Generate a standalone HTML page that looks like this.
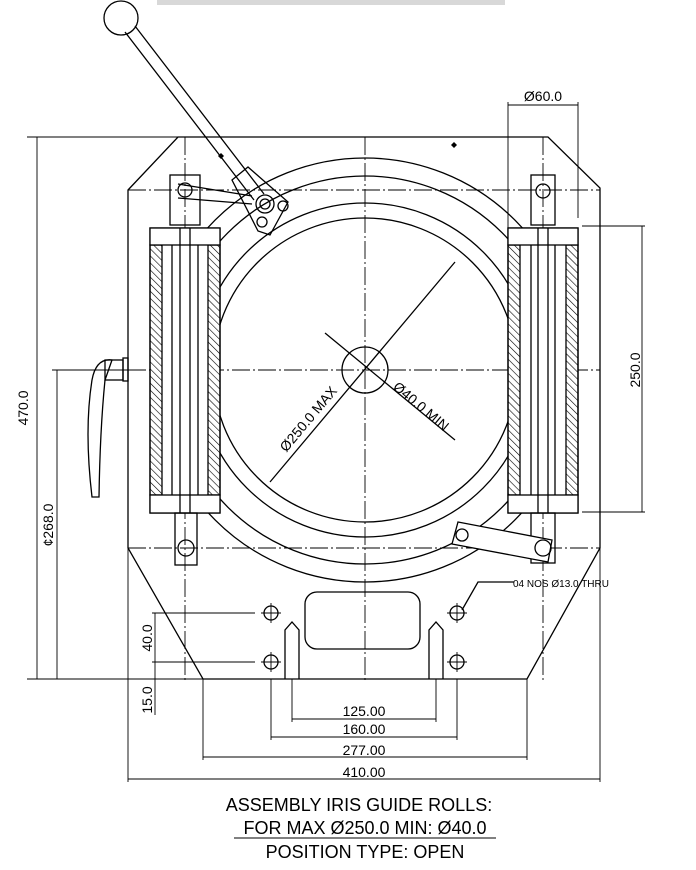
<!DOCTYPE html>
<html><head><style>html,body{margin:0;padding:0;background:#fff}svg{display:block}</style></head><body>
<svg width="696" height="870" viewBox="0 0 696 870" xmlns="http://www.w3.org/2000/svg" font-family="Liberation Sans, sans-serif">
<defs>
<pattern id="h" width="5" height="5" patternUnits="userSpaceOnUse" patternTransform="rotate(-45)">
<line x1="0" y1="0" x2="0" y2="5" stroke="#000" stroke-width="1.2"/></pattern>
</defs>
<rect x="157" y="0" width="348" height="5" fill="#d8d8d8"/>
<g fill="none" stroke="#000" stroke-width="1.3">
<path d="M128,190 L178,137 L548,137 L600,188 L600,548 L527,679 L203,679 L128,548 Z"/>
<line x1="128" y1="548" x2="600" y2="548" stroke-dasharray="18,3,2,3" stroke-width="1"/>
<g stroke-width="0.9" stroke-dasharray="18,3,2,3">
<line x1="128" y1="190" x2="600" y2="190"/>
<line x1="128" y1="370" x2="600" y2="370"/>
<line x1="365" y1="137" x2="365" y2="680"/>
<line x1="185" y1="137" x2="185" y2="680"/>
<line x1="543" y1="137" x2="543" y2="680"/>
</g>
<circle cx="365" cy="370" r="23"/>
<circle cx="365" cy="370" r="152"/>
<circle cx="365" cy="370" r="167"/>
<circle cx="365" cy="370" r="194"/>
<circle cx="365" cy="370" r="212"/>
<line x1="270" y1="482" x2="455" y2="262"/>
<line x1="325" y1="333" x2="455" y2="440"/>
<rect x="150" y="228" width="70" height="285" fill="#fff"/>
<rect x="150" y="245" width="12" height="250" fill="url(#h)"/>
<rect x="208" y="245" width="12" height="250" fill="url(#h)"/>
<rect x="150" y="228" width="70" height="17" fill="#fff"/>
<rect x="150" y="495" width="70" height="18" fill="#fff"/>
<line x1="172" y1="245" x2="172" y2="495"/><line x1="198" y1="245" x2="198" y2="495"/>
<line x1="180" y1="228" x2="180" y2="513"/><line x1="190" y1="228" x2="190" y2="513"/>
<rect x="170" y="175" width="30" height="50"/>
<circle cx="185" cy="190" r="7"/>
<rect x="175" y="513" width="22" height="52"/>
<circle cx="186" cy="548" r="8"/>
<rect x="508" y="228" width="70" height="285" fill="#fff"/>
<rect x="508" y="245" width="12" height="250" fill="url(#h)"/>
<rect x="566" y="245" width="12" height="250" fill="url(#h)"/>
<rect x="508" y="228" width="70" height="17" fill="#fff"/>
<rect x="508" y="495" width="70" height="18" fill="#fff"/>
<line x1="531" y1="245" x2="531" y2="495"/><line x1="555" y1="245" x2="555" y2="495"/>
<line x1="538" y1="228" x2="538" y2="513"/><line x1="548" y1="228" x2="548" y2="513"/>
<rect x="531" y="175" width="24" height="50"/>
<circle cx="543" cy="191" r="7"/>
<rect x="531" y="513" width="24" height="50"/>
<circle cx="543" cy="548" r="8"/>
<path d="M458,522 L552,540 L548,562 L452,544 Z" fill="#fff"/>
<circle cx="462" cy="535" r="6"/><circle cx="543" cy="548" r="8"/>
<circle cx="121" cy="18" r="17"/>
<path d="M125,32 L254,200 M135,26 L264,194"/>
<path d="M178,184 L252,196 M178,198 L252,204"/>
<path d="M232,180 L248,167 L288,202 L270,235 L258,231 Z" fill="none"/>
<circle cx="265" cy="204" r="9"/><circle cx="265" cy="204" r="5"/>
<circle cx="283" cy="206" r="5"/><circle cx="262" cy="222" r="5"/>
<path d="M92,497 Q84,430 92,380 Q96,358 112,360 L105,380 Q100,430 99,497 Z"/>
<rect x="105" y="360" width="18" height="20"/>
<rect x="123" y="358" width="5" height="23"/>
<rect x="305" y="592" width="115" height="57" rx="12"/>
<g>
<circle cx="271" cy="613" r="7"/><circle cx="457" cy="613" r="7"/>
<circle cx="271" cy="662" r="7"/><circle cx="457" cy="662" r="7"/>
<path d="M261,613h20M271,603v20M447,613h20M457,603v20M261,662h20M271,652v20M447,662h20M457,652v20" stroke-width="0.9"/>
</g>
<path d="M285,679 L285,630 L292,622 L299,630 L299,679"/>
<path d="M429,679 L429,630 L436,622 L443,630 L443,679"/>
<path d="M514,582 L478,582 L462,610"/>
<g stroke-width="0.9">
<line x1="27" y1="137" x2="178" y2="137"/>
<line x1="27" y1="679" x2="203" y2="679"/>
<line x1="37" y1="137" x2="37" y2="679"/>
<line x1="52" y1="370" x2="128" y2="370"/>
<line x1="57" y1="370" x2="57" y2="679"/>
<line x1="152" y1="613" x2="255" y2="613"/>
<line x1="152" y1="662" x2="255" y2="662"/>
<line x1="155" y1="613" x2="155" y2="715"/>
<line x1="128" y1="548" x2="128" y2="782"/><line x1="600" y1="548" x2="600" y2="782"/>
<line x1="128" y1="779" x2="600" y2="779"/>
<line x1="203" y1="679" x2="203" y2="760"/><line x1="527" y1="679" x2="527" y2="760"/>
<line x1="203" y1="757" x2="527" y2="757"/>
<line x1="271" y1="679" x2="271" y2="740"/><line x1="457" y1="679" x2="457" y2="740"/>
<line x1="271" y1="737" x2="457" y2="737"/>
<line x1="292" y1="679" x2="292" y2="722"/><line x1="436" y1="679" x2="436" y2="722"/>
<line x1="292" y1="719" x2="436" y2="719"/>
<line x1="508" y1="102" x2="508" y2="228"/><line x1="578" y1="102" x2="578" y2="218"/>
<line x1="508" y1="105" x2="578" y2="105"/>
<line x1="582" y1="226" x2="645" y2="226"/><line x1="582" y1="512" x2="645" y2="512"/>
<line x1="642" y1="226" x2="642" y2="512"/>
</g>
</g>
<g fill="#000">
<path d="M218,156 l3,-3 l3,3 l-3,3z"/><path d="M451,145 l3,-3 l3,3 l-3,3z"/>
</g>
<g font-size="14" fill="#000">
<text x="543" y="101" text-anchor="middle">Ø60.0</text>
<text transform="translate(640,370) rotate(-90)" text-anchor="middle">250.0</text>
<text transform="translate(28,408) rotate(-90)" text-anchor="middle">470.0</text>
<text transform="translate(53,525) rotate(-90)" text-anchor="middle">¢268.0</text>
<text transform="translate(152,638) rotate(-90)" text-anchor="middle">40.0</text>
<text transform="translate(152,700) rotate(-90)" text-anchor="middle">15.0</text>
<text transform="translate(312,422) rotate(-50)" text-anchor="middle">Ø250.0 MAX</text>
<text transform="translate(418,410) rotate(40)" text-anchor="middle">Ø40.0 MIN</text>
<text x="364" y="716" text-anchor="middle">125.00</text>
<text x="364" y="734" text-anchor="middle">160.00</text>
<text x="364" y="755" text-anchor="middle">277.00</text>
<text x="364" y="777" text-anchor="middle">410.00</text>
<text x="513" y="587" font-size="10">04 NOS Ø13.0 THRU</text>
</g>
<g font-size="18" fill="#000" text-anchor="middle">
<text x="359" y="811">ASSEMBLY IRIS GUIDE ROLLS:</text>
<text x="365" y="834">FOR MAX Ø250.0 MIN: Ø40.0</text>
<text x="365" y="858">POSITION TYPE: OPEN</text>
</g>
<line x1="234" y1="838" x2="496" y2="838" stroke="#000" stroke-width="1"/>
</svg>
</body></html>
